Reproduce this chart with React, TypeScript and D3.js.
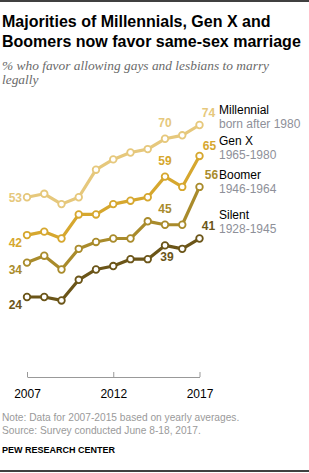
import React, { useEffect, useRef } from 'react';
import * as d3 from 'd3';

const years = [2007, 2008, 2009, 2010, 2011, 2012, 2013, 2014, 2015, 2016, 2017];
const millennial = [53, 54, 51, 53, 61, 64, 66, 67, 70, 71, 74];
const genX = [42, 43, 41, 48, 48, 51, 52, 53, 59, 56, 65];
const boomer = [34, 36, 32, 38, 40, 41, 41, 46, 45, 45, 56];
const silent = [24, 24, 23, 29, 32, 33, 35, 35, 39, 38, 41];
const xTicks = [2007, 2012, 2017];

const seriesNames = ['Millennial', 'Gen X', 'Boomer', 'Silent'];
const seriesSubs = ['born after 1980', '1965-1980', '1946-1964', '1928-1945'];
const colors = ['#e6c87c', '#d6a72e', '#a98b2b', '#6b5518'];

// labelled points: [series index, year index, dx, dy, anchor]
const labelSpots: [number, number, number, number, string][] = [
  [0, 0, -5, 5, 'end'],
  [0, 8, 0, -12, 'middle'],
  [0, 10, 9, -8, 'middle'],
  [1, 0, -5, 12, 'end'],
  [1, 8, 0, -12, 'middle'],
  [1, 10, 10, -6, 'middle'],
  [2, 0, -5, 11, 'end'],
  [2, 8, 0, -12, 'middle'],
  [2, 10, 12, -8, 'middle'],
  [3, 0, -5, 12, 'end'],
  [3, 8, 2, 16, 'middle'],
  [3, 10, 9, -9, 'middle'],
];
const legendY = [114, 145, 179, 219];

const sans = '"Liberation Sans", Arial, sans-serif';

export default function App() {
  const ref = useRef<SVGSVGElement>(null);

  useEffect(() => {
    const svg = d3.select(ref.current);
    svg.selectAll('*').remove();
    const all = [millennial, genX, boomer, silent];

    const x = d3.scaleLinear().domain([2007, 2017]).range([27, 199.5]);
    const y = d3.scaleLinear().domain([24, 74]).range([297, 125]);

    svg.append('line').attr('x1', 0).attr('x2', 309).attr('y1', 1).attr('y2', 1)
      .attr('stroke', '#000').attr('stroke-width', 1.3);

    const title = svg.append('text').attr('font-family', sans).attr('font-weight', 'bold')
      .attr('font-size', 16).attr('fill', '#000');
    title.append('tspan').attr('x', 2).attr('y', 27).text('Majorities of Millennials, Gen X and');
    title.append('tspan').attr('x', 2).attr('y', 47).text('Boomers now favor same-sex marriage');

    const sub = svg.append('text').attr('font-family', '"Liberation Serif", serif')
      .attr('font-style', 'italic').attr('font-size', 13.4).attr('fill', '#6a6a6a');
    sub.append('tspan').attr('x', 2).attr('y', 70).text('% who favor allowing gays and lesbians to marry');
    sub.append('tspan').attr('x', 2).attr('y', 84).text('legally');

    // x axis
    const axis = svg.append('g').attr('transform', 'translate(0,377)')
      .call(d3.axisBottom(x).tickValues(xTicks).tickFormat(d3.format('d')).tickSizeOuter(0).tickSizeInner(-5));
    axis.select('.domain').attr('stroke', '#999');
    axis.selectAll('.tick line').attr('stroke', '#999');
    axis.selectAll('.tick text').attr('font-family', sans).attr('font-size', 12)
      .attr('fill', '#000').attr('y', 12);

    const line = d3.line<number>().x((_, i) => x(years[i])).y((d) => y(d));

    all.forEach((vals, s) => {
      const g = svg.append('g');
      g.append('path').attr('d', line(vals)).attr('fill', 'none')
        .attr('stroke', colors[s]).attr('stroke-width', 3.2).attr('stroke-linejoin', 'round');
      g.selectAll('circle').data(vals).enter().append('circle')
        .attr('cx', (_, i) => x(years[i])).attr('cy', (d) => y(d)).attr('r', 3.3)
        .attr('fill', '#fff').attr('stroke', colors[s]).attr('stroke-width', 1.8);
    });

    svg.selectAll('.val').data(labelSpots).enter().append('text')
      .attr('class', 'val')
      .attr('x', (d) => x(years[d[1]]) + d[2])
      .attr('y', (d) => y(all[d[0]][d[1]]) + d[3])
      .attr('text-anchor', (d) => d[4])
      .attr('font-family', sans).attr('font-weight', 'bold').attr('font-size', 12)
      .attr('fill', (d) => colors[d[0]])
      .text((d) => all[d[0]][d[1]]);

    seriesNames.forEach((name, s) => {
      svg.append('text').attr('x', 219).attr('y', legendY[s]).attr('font-family', sans)
        .attr('font-size', 12).attr('fill', '#000').text(name);
      svg.append('text').attr('x', 219).attr('y', legendY[s] + 13.5).attr('font-family', sans)
        .attr('font-size', 12).attr('fill', '#8e9099').text(seriesSubs[s]);
    });

    const note = svg.append('text').attr('font-family', sans).attr('font-size', 10.2).attr('fill', '#9a9a9a');
    note.append('tspan').attr('x', 2).attr('y', 421).text('Note: Data for 2007-2015 based on yearly averages.');
    note.append('tspan').attr('x', 2).attr('y', 434).text('Source: Survey conducted June 8-18, 2017.');

    svg.append('text').attr('x', 2).attr('y', 453).attr('font-family', sans).attr('font-weight', 'bold')
      .attr('font-size', 9).attr('fill', '#000').text('PEW RESEARCH CENTER');

    svg.append('line').attr('x1', 0).attr('x2', 309).attr('y1', 471).attr('y2', 471)
      .attr('stroke', '#000').attr('stroke-width', 1.3);
  });

  return (
    <svg ref={ref} width={309} height={473}
      style={{ position: 'absolute', left: 0, top: 0, background: '#fff' }} />
  );
}
